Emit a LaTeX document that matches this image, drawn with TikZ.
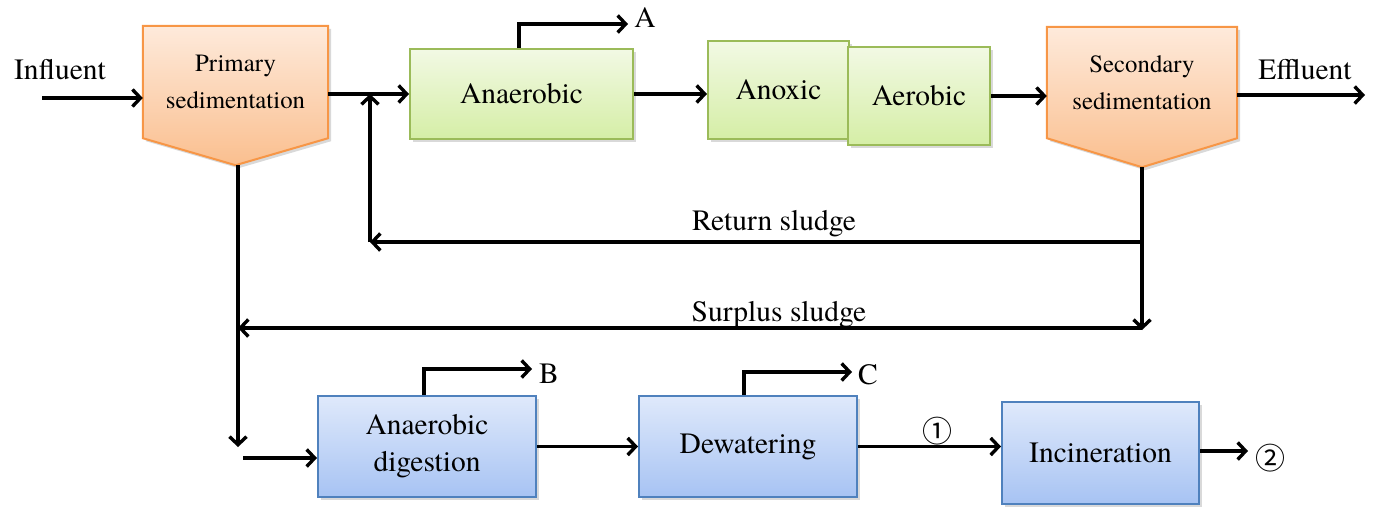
\documentclass[tikz,border=0pt]{standalone}
\usepackage{fontspec}
\setmainfont{texgyretermes-regular.otf}
\newfontfamily\circfont{Noto Sans CJK SC}
\usetikzlibrary{arrows.meta,calc,backgrounds,shadows}
\definecolor{orline}{HTML}{F79646}
\definecolor{ortop}{HTML}{FEEADB}
\definecolor{orbot}{HTML}{FABF8F}
\definecolor{grline}{HTML}{9BBB59}
\definecolor{grtop}{HTML}{F2F9E4}
\definecolor{grbot}{HTML}{D5EEA6}
\definecolor{blline}{HTML}{4F81BD}
\definecolor{bltop}{HTML}{DFE9FB}
\definecolor{blbot}{HTML}{A7C3F3}
\tikzset{>={Straight Barb[length=8pt,width=17pt]},arr/.style={->,line width=3.4pt},shade/.style={drop shadow={opacity=.3,shadow xshift=3pt,shadow yshift=-3pt}},tank/.style={inner sep=0pt,align=center,font=\fontsize{29.5}{37}\selectfont},grbox/.style={tank,draw=grline,line width=2pt,top color=grtop,bottom color=grbot,shade},blbox/.style={tank,draw=blline,line width=2pt,top color=bltop,bottom color=blbot,shade},sedi/.style={tank,font=\fontsize{24.8}{37}\selectfont},lbl/.style={font=\fontsize{29.5}{36}\selectfont,inner sep=0pt},num/.style={font=\circfont\fontsize{30}{32}\selectfont,inner sep=0pt}}

\begin{document}
\begin{tikzpicture}[x=1pt,y=-1pt]
\useasboundingbox (0,0) rectangle (1380,506);
\node[sedi,minimum width=185pt,minimum height=112pt] (prim) at (235.5,82) {Primary\\sedimentation};
\node[sedi,minimum width=190pt,minimum height=111pt] (sec) at (1142,82.5) {Secondary\\sedimentation};
\coordinate (ptip) at ($(prim.south)+(0,27)$);
\coordinate (stip) at ($(sec.south)+(0,29)$);
\begin{scope}[on background layer]
\foreach \n/\t in {prim/ptip,sec/stip}{\draw[orline,line width=2pt,top color=ortop,bottom color=orbot,shade] (\n.north west) -- (\n.north east) -- (\n.south east) -- (\t) -- (\n.south west) -- cycle;}
\end{scope}
\node[grbox,minimum width=223pt,minimum height=90pt] (anaer) at (521.5,94) {Anaerobic};
\node[grbox,minimum width=141pt,minimum height=98pt] (anox) at (778.5,90) {Anoxic};
\node[grbox,minimum width=142pt,minimum height=98pt] (aer) at (919,96) {Aerobic};
\node[blbox,minimum width=218pt,minimum height=101pt] (dig) at (427,446.5) {Anaerobic\\digestion};
\node[blbox,minimum width=218pt,minimum height=101pt] (dew) at (748,446.5) {Dewatering};
\node[blbox,minimum width=197pt,minimum height=102pt] (inc) at (1100.5,453) {Incineration};
\node[lbl] (influent) at (60,70) {Influent};
\node[lbl] (effluent) at (1305,70) {Effluent};
\node[lbl] (lA) at (645,18) {A};
\node[lbl] (lB) at (549,374) {B};
\node[lbl] (lC) at (868,375) {C};
\node[lbl] (rsl) at (774,224) {Return sludge};
\node[lbl] (ssl) at (779,315) {Surplus sludge};
\node[num] (n1) at (937,431) {①};
\node[num] (n2) at (1270,458) {②};
\coordinate (inf) at (42,98);
\coordinate (eff) at (1365,95);
\coordinate (tipA) at (628,24);
\coordinate (tipB) at (532,369);
\coordinate (tipC) at (852,372);
\coordinate (tip2) at (1248,451);
\coordinate (rs) at (1142,242);
\coordinate (rl) at (370,242);
\coordinate (sr) at (1142,328);
\coordinate (sl) at (238,328);
\coordinate (pd) at (238,447);
\coordinate (din) at (243,458);
\draw[arr] (inf) -- (inf -| prim.west);
\draw[arr] (prim.east |- anaer.west) -- (anaer.west);
\draw[arr] (anaer.east) -- (anaer.east -| anox.west);
\draw[arr] (aer.east) -- (aer.east -| sec.west);
\draw[arr] (eff -| sec.east) -- (eff);
\draw[arr] (anaer.north -| 519,0) |- (tipA);
\draw[arr] (dig.north -| 424,0) |- (tipB);
\draw[arr] (dew.north -| 744,0) |- (tipC);
\draw[arr] (stip) -- ($(sr)+(0,2)$);
\draw[arr] (rs) -- (rl);
\draw[arr] (rl) -- (rl |- anaer.west);
\draw[arr] (sr) -- (sl);
\draw[arr] (ptip -| pd) -- (pd);
\draw[arr] (din) -- (din -| dig.west);
\draw[arr] (dig.east) -- (dew.west);
\draw[arr] (dew.east) -- (dew.east -| inc.west);
\draw[arr] (inc.east |- tip2) -- (tip2);
\end{tikzpicture}
\end{document}
